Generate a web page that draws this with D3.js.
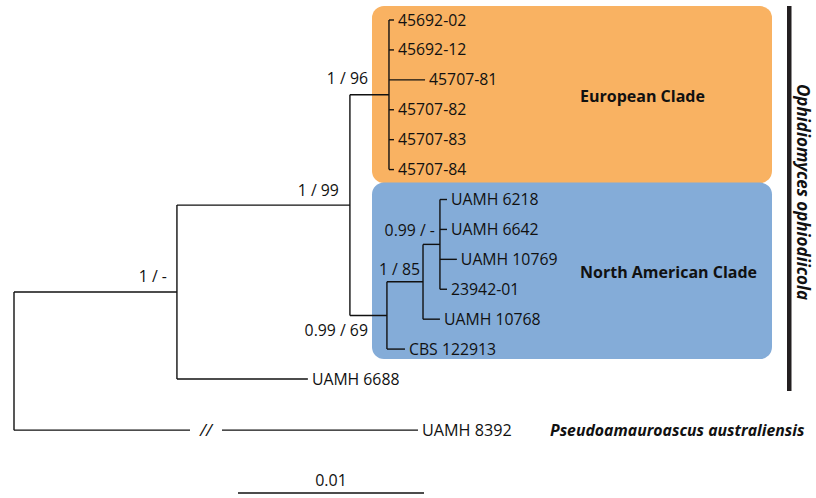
<!DOCTYPE html>
<html><head><meta charset="utf-8">
<script src="https://cdn.jsdelivr.net/npm/d3@7"></script>
<style>
body{margin:0;background:#fff}
svg{display:block}
text{font-family:"Open Sans","Noto Sans",sans-serif;fill:#111}
</style></head>
<body><svg id="c" width="816" height="498"></svg>
<script>
// ---- data ----
const nodeIds = ["root","A","B","EU","45692-02","45692-12","45707-81","45707-82","45707-83","45707-84",
  "NA","C","D","UAMH 6218","UAMH 6642","UAMH 10769","23942-01","UAMH 10768","CBS 122913","UAMH 6688","UAMH 8392"];
const parentIds = ["","root","A","B","EU","EU","EU","EU","EU","EU",
  "B","NA","C","D","D","D","D","C","NA","A","root"];
const branchLengths = [0,0.00876,0.00930,0.00210,0.00027,0.00027,0.00194,0.00027,0.00027,0.00027,
  0.00199,0.00194,0.00091,0.00038,0.00038,0.00091,0.00038,0.00091,0.00097,0.00704,0.02172];
const supportNodes = ["A","B","EU","NA","C","D"];
const supportValues = ["1 / -","1 / 99","1 / 96","0.99 / 69","1 / 85","0.99 / -"];
const brokenBranches = ["UAMH 8392"];
const cladeNames = ["European Clade","North American Clade"];
const cladeNodes = ["EU","NA"];
const speciesNames = ["Ophidiomyces ophiodiicola","Pseudoamauroascus australiensis"];
const scaleBarValue = 0.01;
const scaleBarLabel = "0.01";

// ---- layout / style ----
const cladeColors = ["#F9B262","#84ACD8"];
const supportOffset = {A:[-10,-10],B:[-11,-9],EU:[-21,-11],NA:[-19,21],C:[-3,-7],D:[-5,-8]};
const FS = 15.8;

const svg = d3.select("#c");
const x = d3.scaleLinear().domain([0, scaleBarValue]).range([14, 200]);
const y = d3.scaleLinear().domain([0, 12]).range([20, 379]);
const outgroupGap = 0.71;

const table = nodeIds.map((id,i)=>({id, parent: parentIds[i] || null, len: branchLengths[i]}));
const root = d3.stratify().id(d=>d.id).parentId(d=>d.parent)(table);
root.each(n=>{ n.dist = (n.parent ? n.parent.dist : 0) + n.data.len; });
let row = 0;
root.eachBefore(n=>{ if(!n.children){ n.row = (n.parent===root) ? row - 1 + outgroupGap + 1 : row; row++; } });
root.eachAfter(n=>{
  n.px = x(n.dist);
  if(n.children){ n.py = (n.children[0].py + n.children[n.children.length-1].py)/2; }
  else n.py = y(n.row);
});
const byId = {}; root.each(n=>byId[n.id]=n);

// clade boxes
const boxX0 = 372, boxX1 = 772;
cladeNodes.forEach((cid,i)=>{
  const lv = byId[cid].leaves();
  const y0 = i===0 ? lv[0].py-14 : lv[0].py-17;
  const y1 = i===0 ? lv[lv.length-1].py+13.5 : lv[lv.length-1].py+10;
  svg.append("rect").attr("x",boxX0).attr("y",y0).attr("width",boxX1-boxX0).attr("height",y1-y0)
    .attr("rx",12).attr("fill",cladeColors[i]);
  svg.append("text").attr("x",580).attr("y",(y0+y1)/2+7).attr("font-weight","bold")
    .attr("font-size",16).text(cladeNames[i]);
});

const g = svg.append("g").attr("stroke","#111").attr("stroke-width",1.4).attr("fill","none");
// horizontal branches
root.descendants().filter(n=>n.parent).forEach(n=>{
  if(brokenBranches.includes(n.id)){
    g.append("line").attr("x1",n.parent.px).attr("x2",190).attr("y1",n.py).attr("y2",n.py);
    g.append("line").attr("x1",222).attr("x2",n.px).attr("y1",n.py).attr("y2",n.py);
    svg.append("text").attr("x",206).attr("y",n.py+6).attr("text-anchor","middle")
      .attr("font-size",17).attr("font-style","italic").text("//");
  } else {
    g.append("line").attr("x1",n.parent.px).attr("x2",n.px).attr("y1",n.py).attr("y2",n.py);
  }
});
// vertical connectors
root.descendants().filter(n=>n.children).forEach(n=>{
  g.append("line").attr("x1",n.px).attr("x2",n.px)
    .attr("y1",n.children[0].py).attr("y2",n.children[n.children.length-1].py);
});
// leaf labels
root.leaves().forEach(n=>{
  const t = svg.append("text").attr("x",n.px+4).attr("y",n.py+5.5).attr("font-size",FS).text(n.id);
  if(brokenBranches.includes(n.id)){
    t.attr("font-family","'Liberation Sans Narrow','DejaVu Sans Condensed',sans-serif").attr("font-size",16.2).attr("y",n.py+6);
  }
});
// support values
supportNodes.forEach((id,i)=>{
  const n = byId[id], o = supportOffset[id];
  svg.append("text").attr("x",n.px+o[0]).attr("y",n.py+o[1]).attr("text-anchor","end")
    .attr("font-size",FS).text(supportValues[i]);
});
// species bar + names
svg.append("rect").attr("x",787).attr("y",6).attr("width",4.5).attr("height",385).attr("fill","#231f20");
svg.append("text").attr("transform","translate(797,192) rotate(90)").attr("text-anchor","middle")
  .attr("font-weight","bold").attr("font-style","italic").attr("font-size",17).text(speciesNames[0]);
svg.append("text").attr("x",550).attr("y",byId["UAMH 8392"].py+5.5).attr("font-weight","bold")
  .attr("font-style","italic").attr("font-size",15.8).text(speciesNames[1]);

// scale bar
const sbX = 238, sbW = x(scaleBarValue) - x(0), sbY = 493;
svg.append("line").attr("x1",sbX).attr("x2",sbX+sbW).attr("y1",sbY).attr("y2",sbY)
  .attr("stroke","#111").attr("stroke-width",1.4);
svg.append("text").attr("x",sbX+sbW/2).attr("y",sbY-7).attr("text-anchor","middle")
  .attr("font-family","'Liberation Sans Narrow','DejaVu Sans Condensed',sans-serif").attr("font-size",16).text(scaleBarLabel);
</script></body></html>
